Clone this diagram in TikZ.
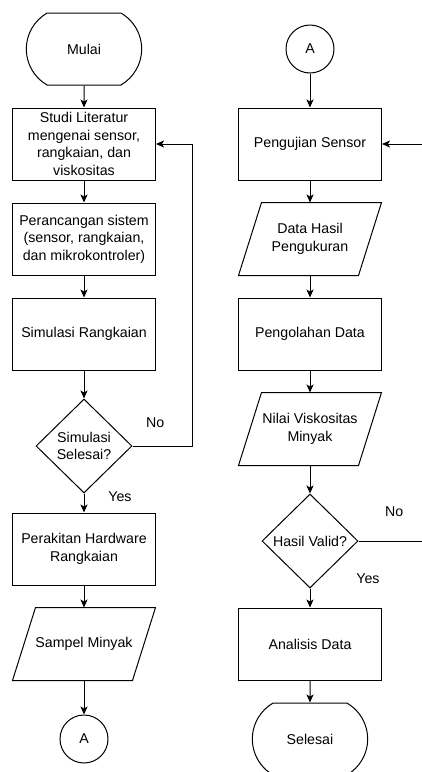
\documentclass[tikz,border=0pt]{standalone}
\usepackage{fontspec}
\setmainfont{Liberation Sans}
\usepackage{tikz}
\usetikzlibrary{arrows.meta,shapes.geometric,shapes.misc}

\begin{document}
\begin{tikzpicture}[x=1pt,y=1pt,>={Stealth[length=8pt,width=7pt,inset=2pt]},
        node distance=95pt,line width=1pt,
        font=\fontsize{14.2}{17.5}\selectfont,
        proses/.style={draw,rectangle,minimum width=143pt,minimum height=72pt,align=center},
        masukan/.style={rectangle,minimum width=119pt,minimum height=72pt,inner sep=0pt,align=center,
            append after command={\pgfextra{\draw
                ([xshift=11.5pt]\tikzlastnode.north west) -- ([xshift=11.5pt]\tikzlastnode.north east)
                -- ([xshift=-11.5pt]\tikzlastnode.south east) -- ([xshift=-11.5pt]\tikzlastnode.south west)
                -- cycle;}}},
        keputusan/.style={draw,diamond,minimum width=96pt,minimum height=94pt,inner sep=0pt,align=center},
        terminasi/.style={draw,rounded rectangle,rounded rectangle arc length=120,
            minimum width=122pt,minimum height=72pt},
        konektor/.style={draw,circle,minimum size=48pt,inner sep=0pt}]
            \path[use as bounding box,clip] (0,0) rectangle (422,-772);

            % kolom kiri
            \node[terminasi]  (mulai)    at (84,-49)          {Mulai};
            \node[proses]     (studi)    [below of=mulai]     {Studi Literatur\\mengenai sensor,\\rangkaian, dan\\viskositas};
            \node[proses]     (rancang)  [below of=studi]     {Perancangan sistem\\(sensor, rangkaian,\\dan mikrokontroler)};
            \node[proses]     (simulasi) [below of=rancang]   {Simulasi Rangkaian};
            \node[keputusan]  (cek1)     [node distance=112pt,below of=simulasi] {Simulasi\\Selesai?};
            \node[proses]     (rakit)    [node distance=103pt,below of=cek1]     {Perakitan Hardware\\Rangkaian};
            \node[masukan]    (sampel)   [below of=rakit]     {Sampel Minyak};
            \node[konektor]   (konA)     [below of=sampel]    {A};

            % kolom kanan
            \node[konektor]   (konB)     at (310,-49)         {A};
            \node[proses]     (uji)      [below of=konB]      {Pengujian Sensor};
            \node[masukan]    (hasil)    [below of=uji]       {Data Hasil\\Pengukuran};
            \node[proses]     (olah)     [below of=hasil]     {Pengolahan Data};
            \node[masukan]    (nilai)    [below of=olah]      {Nilai Viskositas\\Minyak};
            \node[keputusan]  (cek2)     [node distance=112pt,below of=nilai]    {Hasil Valid?};
            \node[proses]     (analisis) [node distance=103pt,below of=cek2]     {Analisis Data};
            \node[terminasi]  (selesai)  [below of=analisis]  {Selesai};

            \coordinate (tepi) at (426,0);

            \path[->]
                (mulai) edge (studi)
                (studi) edge (rancang)
                (rancang) edge (simulasi)
                (simulasi) edge (cek1)
                (cek1) edge node[pos=0.15,xshift=36pt] {Yes} (rakit)
                (rakit) edge (sampel)
                (sampel) edge (konA)
                (konB) edge (uji)
                (uji) edge (hasil)
                (hasil) edge (olah)
                (olah) edge (nilai)
                (nilai) edge (cek2)
                (cek2) edge node[pos=0,xshift=58pt,yshift=10pt] {Yes} (analisis)
                (analisis) edge (selesai);

            \draw[->] (cek1.east) -- node[pos=0.38,yshift=23pt] {No} ++(60,0) |- (studi.east);
            \draw[->] (cek2.east) -- node[pos=0.53,yshift=29pt] {No} (cek2.east -| tepi) |- (uji.east);
        \end{tikzpicture}
\end{document}
